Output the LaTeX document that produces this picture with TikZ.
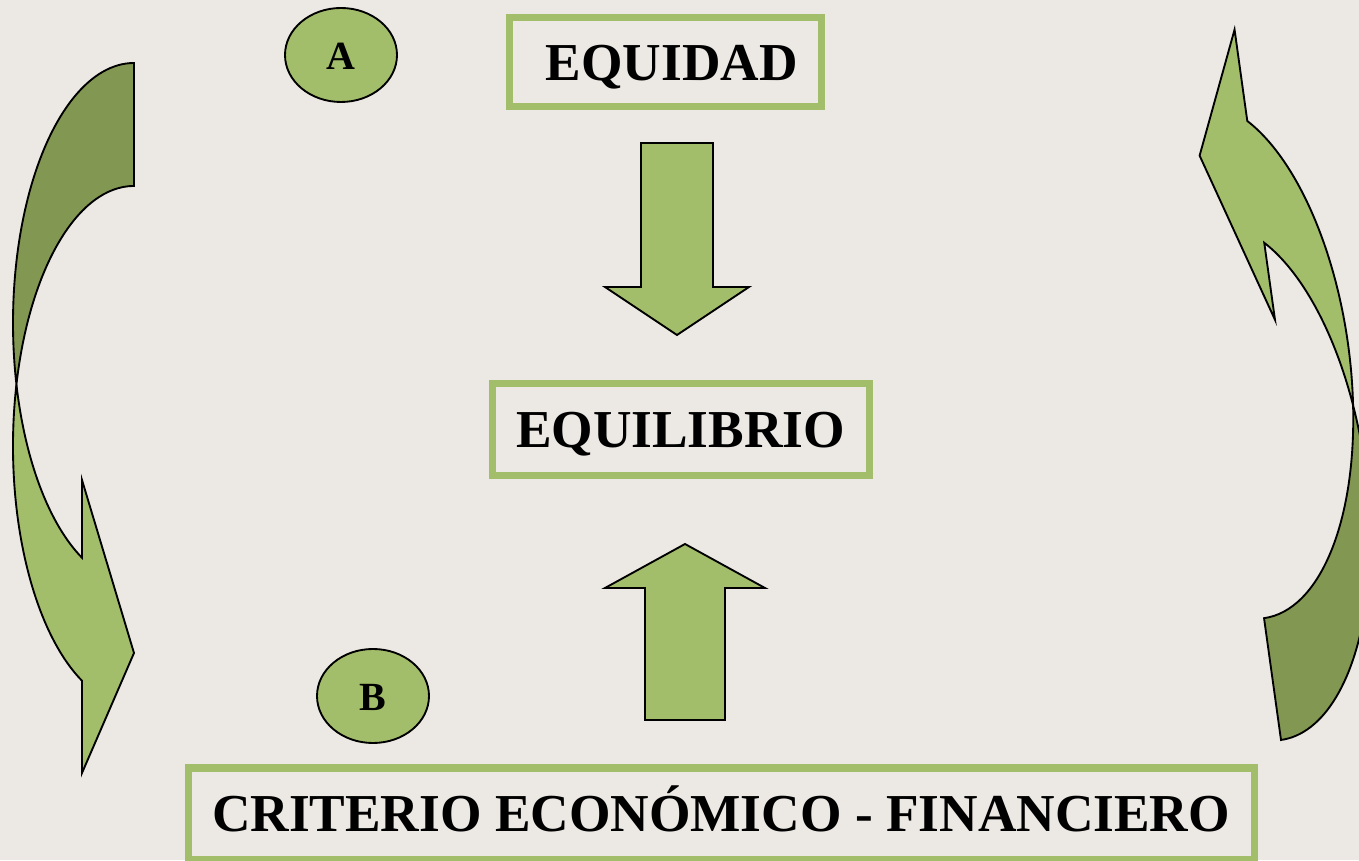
\documentclass[tikz,border=0pt]{standalone}
\usepackage{fontspec}
\setmainfont{Liberation Serif}
\usetikzlibrary{shapes.geometric}
\definecolor{bgc}{RGB}{236,232,228}
\definecolor{lgreen}{RGB}{163,190,106}
\definecolor{dgreen}{RGB}{130,152,82}
\tikzset{
  shapeout/.style={draw=black,line width=1.4pt,line join=miter},
  boxnode/.style={draw=lgreen,line width=5.25pt,fill=none,inner sep=0pt,
    font=\bfseries\fontsize{40}{48}\selectfont,text height=26.5pt,text depth=0pt},
  letternode/.style={ellipse,draw=black,line width=1.4pt,fill=lgreen,inner sep=0pt,
    minimum width=84pt,minimum height=70.5pt,
    font=\bfseries\fontsize{30}{36}\selectfont,text height=22pt,text depth=0pt},
}
\begin{document}
\begin{tikzpicture}[x=0.75pt,y=0.75pt]
\useasboundingbox (0,0) rectangle (1359,860);
\fill[bgc] (0,0) rectangle (1359,860);
\clip (0,0) rectangle (1359,860);

% boxes
\node[boxnode,minimum width=234pt,minimum height=66.75pt] (equidad) at (665,797.5) {\hspace*{10pt}EQUIDAD};
\node[boxnode,minimum width=282.75pt,minimum height=69pt] (equilibrio) at (680.5,430) {EQUILIBRIO};
\node[boxnode,minimum width=799.5pt,minimum height=68.25pt] (criterio) at (721,46.5) {CRITERIO ECONÓMICO - FINANCIERO};

% letter ellipses
\node[letternode] (A) at (341,805) {A};
\node[letternode] (B) at (373,164) {B};

% block arrows
\filldraw[shapeout,fill=lgreen] (641,717) -- (713,717) -- (713,573) -- (749,573) -- (677,525) -- (605,573) -- (641,573) -- cycle;
\filldraw[shapeout,fill=lgreen] (645,140) -- (725,140) -- (725,272) -- (765,272) -- (685,316) -- (605,272) -- (645,272) -- cycle;

% left curved arrow
\filldraw[shapeout,fill=lgreen] (16.43,475.49)
  arc[start angle=166.32,end angle=244.55,x radius=121,y radius=260]
  -- (82,87) -- (134,207) -- (82,380) -- (82,302.24)
  arc[start angle=244.55,end angle=193.68,x radius=121,y radius=260] -- cycle;
\filldraw[shapeout,fill=dgreen] (134,797)
  arc[start angle=90,end angle=193.68,x radius=121,y radius=260]
  arc[start angle=166.32,end angle=90,x radius=121,y radius=260] -- cycle;

% right curved arrow (same shape turned)
\begin{scope}[shift={(1303.76,927.87)},rotate=187.93]
\filldraw[shapeout,fill=lgreen] (16.43,475.49)
  arc[start angle=166.32,end angle=244.55,x radius=121,y radius=260]
  -- (82,87) -- (134,207) -- (82,380) -- (82,302.24)
  arc[start angle=244.55,end angle=193.68,x radius=121,y radius=260] -- cycle;
\filldraw[shapeout,fill=dgreen] (134,797)
  arc[start angle=90,end angle=193.68,x radius=121,y radius=260]
  arc[start angle=166.32,end angle=90,x radius=121,y radius=260] -- cycle;
\end{scope}
\end{tikzpicture}
\end{document}
